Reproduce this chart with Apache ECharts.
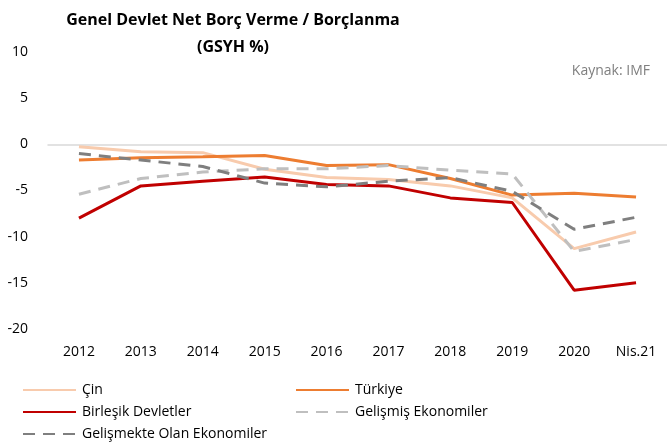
<!DOCTYPE html>
<html>
<head>
<meta charset="utf-8">
<script src="https://cdn.jsdelivr.net/npm/echarts@6/dist/echarts.min.js"></script>
<style>
  html, body { margin: 0; padding: 0; background: #fff; }
  #chart { width: 667px; height: 444px; }
</style>
</head>
<body>
<div id="chart"></div>
<script>
const years = ['2012', '2013', '2014', '2015', '2016', '2017', '2018', '2019', '2020', 'Nis.21'];

const cin = [-0.25, -0.8, -0.9, -2.7, -3.6, -3.8, -4.5, -5.8, -11.3, -9.5];
const turkiye = [-1.7, -1.45, -1.35, -1.2, -2.3, -2.2, -3.7, -5.5, -5.3, -5.7];
const abd = [-8.0, -4.5, -4.0, -3.55, -4.35, -4.5, -5.8, -6.3, -15.8, -15.0];
const gelismis = [-5.4, -3.7, -3.0, -2.65, -2.65, -2.3, -2.8, -3.2, -11.6, -10.3];
const gelismekte = [-1.0, -1.7, -2.4, -4.2, -4.6, -4.0, -3.6, -5.1, -9.2, -7.9];

const font = 'Open Sans';

function line(name, data, color, dashed) {
  return {
    type: 'line',
    name: name,
    data: data,
    symbol: 'none',
    color: color,
    lineStyle: {width: 3, color: color, type: dashed ? [12, 8] : 'solid'},
    z: dashed ? 3 : 2
  };
}

// one legend per entry so they sit like the reference (two columns)
function legendAt(name, left, top) {
  return {
    left: left,
    top: top,
    itemWidth: 53,
    itemHeight: 12,
    itemGap: 0,
    itemStyle: {opacity: 0},
    data: [name],
    textStyle: {fontFamily: font, fontSize: 14, color: '#000', padding: [0, 0, 0, 1]}
  };
}

const chart = echarts.init(document.getElementById('chart'));

chart.setOption({
  animation: false,
  textStyle: {fontFamily: font},
  title: [{
    text: 'Genel Devlet Net Borç Verme / Borçlanma\n(GSYH %)',
    left: 228,
    top: 2,
    textAlign: 'center',
    textStyle: {fontFamily: font, fontSize: 16, fontWeight: 'bold', color: '#000', lineHeight: 27}
  }, {
    text: 'Kaynak: IMF',
    right: 12,
    top: 59,
    textStyle: {fontFamily: font, fontSize: 14, fontWeight: 'normal', color: '#7f7f7f'}
  }],
  legend: [
    legendAt('Çin', 17, 378),
    legendAt('Türkiye', 290, 378),
    legendAt('Birleşik Devletler', 17, 400),
    legendAt('Gelişmiş Ekonomiler', 290, 400),
    legendAt('Gelişmekte Olan Ekonomiler', 17, 422)
  ],
  grid: {left: 48, right: 0, top: 52, bottom: 115},
  xAxis: {
    type: 'category',
    data: years,
    boundaryGap: true,
    axisLine: {lineStyle: {color: '#d9d9d9', width: 1.5}},
    axisTick: {show: false},
    axisLabel: {color: '#000', fontSize: 14, fontFamily: font, margin: 16}
  },
  yAxis: {
    type: 'value',
    min: -20,
    max: 10,
    interval: 5,
    axisLine: {show: false},
    axisTick: {show: false},
    splitLine: {show: false},
    axisLabel: {color: '#000', fontSize: 14, fontFamily: font, margin: 20}
  },
  series: [
    line('Çin', cin, '#f8cbad', false),
    line('Türkiye', turkiye, '#ed7d31', false),
    line('Birleşik Devletler', abd, '#c00000', false),
    line('Gelişmiş Ekonomiler', gelismis, '#bfbfbf', true),
    line('Gelişmekte Olan Ekonomiler', gelismekte, '#7f7f7f', true)
  ]
});
</script>
</body>
</html>
